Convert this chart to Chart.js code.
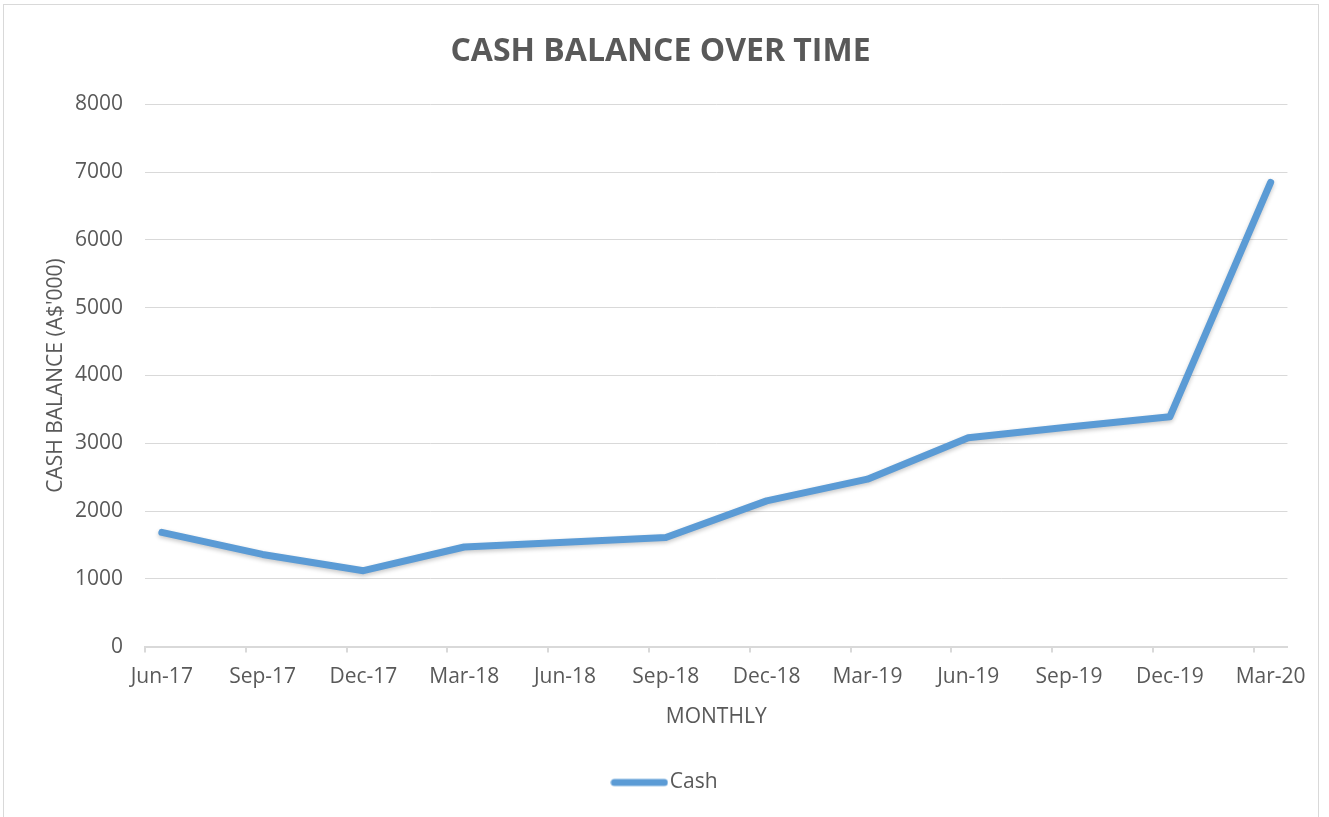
<!DOCTYPE html>
<html>
<head>
<meta charset="utf-8">
<title>Cash Balance Over Time</title>
<script src="https://cdn.jsdelivr.net/npm/chart.js@4.4.1/dist/chart.umd.min.js"></script>
<style>
    body { margin: 0; background: #fff; }
    #wrap {
        position: absolute;
        left: 3px;
        top: 4px;
        width: 1314px;
        height: 812px;
        border: 1px solid #d9d9d9;
    }
</style>
</head>
<body>
<div id="wrap"><canvas id="cashChart" width="1314" height="812"></canvas></div>
<script>
// quarterly points
const quarters = ['Jun-17', 'Sep-17', 'Dec-17', 'Mar-18', 'Jun-18', 'Sep-18',
                  'Dec-18', 'Mar-19', 'Jun-19', 'Sep-19', 'Dec-19', 'Mar-20'];
const cashValues = [1685, 1360, 1120, 1470, 1540, 1610, 2150, 2470, 3080, 3240, 3390, 6850];
const yTicks = [0, 1000, 2000, 3000, 4000, 5000, 6000, 7000, 8000];

// the axis in the original is monthly, so each quarter gets two empty months after it
const monthLabels = [];
const monthValues = [];
quarters.forEach(function(q, i) {
    monthLabels.push(q);
    monthValues.push(cashValues[i]);
    if (i < quarters.length - 1) {
        monthLabels.push('', '');
        monthValues.push(null, null);
    }
});

const textColor = '#595959';
const gridColor = '#d9d9d9';
const lineColor = '#5b9bd5';
const fontFamily = "'Open Sans', sans-serif";

// soft shadow under the line, like the Excel style
const lineShadow = {
    id: 'lineShadow',
    beforeDatasetDraw(chart) {
        const c = chart.ctx;
        c.save();
        c.shadowColor = 'rgba(0, 0, 0, 0.22)';
        c.shadowBlur = 4;
        c.shadowOffsetY = 2;
    },
    afterDatasetDraw(chart) {
        chart.ctx.restore();
    }
};

// title and legend are centred on the whole frame, not on the padded area
const centreBlocks = {
    id: 'centreBlocks',
    afterLayout(chart) {
        if (chart.titleBlock) {
            chart.titleBlock.left += 13;
            chart.titleBlock.right += 13;
        }
        if (chart.legend) {
            chart.legend.left += 21;
            chart.legend.right += 21;
        }
    }
};

// legend sample: a wide round-capped stroke that sits close to the text
const legendLine = document.createElement('canvas');
legendLine.width = 58;
legendLine.height = 10;
(function() {
    const c = legendLine.getContext('2d');
    c.strokeStyle = lineColor;
    c.lineWidth = 7;
    c.lineCap = 'round';
    c.beginPath();
    c.moveTo(4, 5);
    c.lineTo(54, 5);
    c.stroke();
})();

new Chart(document.getElementById('cashChart'), {
    type: 'line',
    data: {
        labels: monthLabels,
        datasets: [{
            label: 'Cash',
            data: monthValues,
            borderColor: lineColor,
            backgroundColor: lineColor,
            borderWidth: 7,
            borderCapStyle: 'round',
            borderJoinStyle: 'round',
            pointRadius: 0,
            pointHoverRadius: 0,
            pointStyle: legendLine,
            spanGaps: true,
            tension: 0
        }]
    },
    plugins: [lineShadow, centreBlocks],
    options: {
        responsive: false,
        animation: false,
        layout: {
            padding: { left: 0, right: 27, top: 0, bottom: 14 }
        },
        plugins: {
            tooltip: { enabled: false },
            title: {
                display: true,
                text: 'CASH BALANCE OVER TIME',
                color: textColor,
                font: { family: fontFamily, size: 32, weight: 'bold' },
                padding: { top: 28, bottom: 33 }
            },
            legend: {
                display: true,
                position: 'bottom',
                labels: {
                    usePointStyle: true,
                    pointStyleWidth: 40,
                    boxWidth: 40,
                    padding: 10,
                    color: textColor,
                    font: { family: fontFamily, size: 21 }
                }
            }
        },
        scales: {
            x: {
                offset: true,
                grid: {
                    offset: true,
                    drawOnChartArea: false,
                    drawTicks: true,
                    tickLength: 6,
                    lineWidth: 2,
                    color: function(ctx) {
                        return ctx.index % 3 === 0 ? gridColor : 'rgba(0,0,0,0)';
                    }
                },
                border: { display: true, color: gridColor, width: 2 },
                ticks: {
                    autoSkip: false,
                    maxRotation: 0,
                    padding: 12,
                    color: textColor,
                    font: { family: fontFamily, size: 21 },
                    callback: function(value, index) {
                        return monthLabels[index];
                    }
                },
                title: {
                    display: true,
                    text: 'MONTHLY',
                    color: textColor,
                    font: { family: fontFamily, size: 21 },
                    padding: { top: 3, bottom: 32 }
                }
            },
            y: {
                min: yTicks[0],
                max: yTicks[yTicks.length - 1],
                afterFit: function(scale) {
                    scale.width = 141;
                },
                afterBuildTicks: function(scale) {
                    scale.ticks = yTicks.map(function(v) { return { value: v }; });
                },
                grid: {
                    color: gridColor,
                    lineWidth: 1,
                    drawTicks: false
                },
                border: { display: false },
                ticks: {
                    padding: 22,
                    color: textColor,
                    font: { family: fontFamily, size: 21 },
                    callback: function(value) {
                        return String(value);
                    }
                },
                title: {
                    display: true,
                    text: "CASH BALANCE (A$'000)",
                    color: textColor,
                    font: { family: fontFamily, size: 21 },
                    padding: { top: 39, bottom: 0 }
                }
            }
        }
    }
});
</script>
</body>
</html>
